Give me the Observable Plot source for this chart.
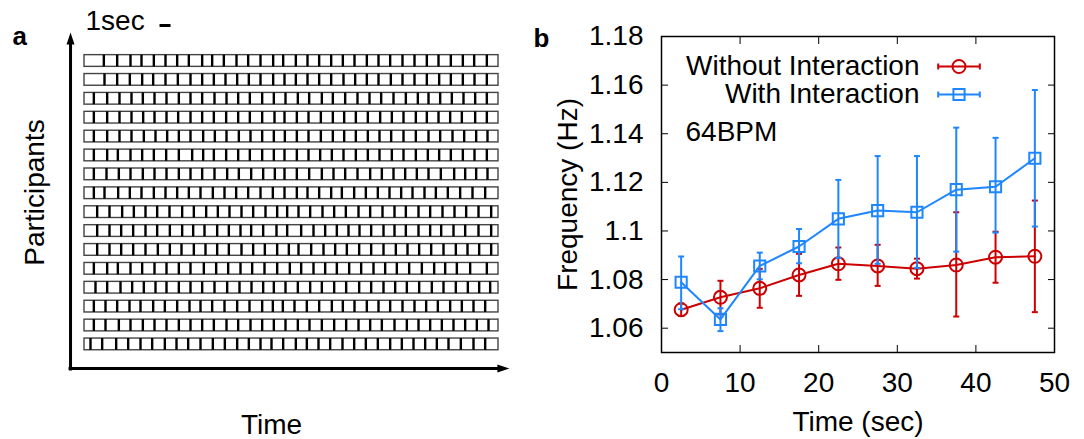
<!DOCTYPE html>
<html><head><meta charset="utf-8">
<script src="https://cdn.jsdelivr.net/npm/d3@7"></script>
<script src="https://cdn.jsdelivr.net/npm/@observablehq/plot@0.6"></script>
<style>
html,body{margin:0;padding:0;background:#fff;}
#wrap{position:relative;width:1084px;height:439px;overflow:hidden;font-family:"Liberation Sans",Arial,sans-serif;}
#wrap svg{position:absolute;top:0;overflow:visible;}
</style></head><body><div id="wrap"></div>
<script>
// ---------- Panel a: tap times of 16 participants (units of 1/33 s) ----------
const TAP_UNITS_PER_SEC = 33;
const trialUnits = 1242;
const participantTaps = [
 [58,98,138,171,208,243,278,313,353,383,418,456,491,528,566,596,634,669,704,740,775,810,847,882,917,954,990,1027,1062,1099,1135,1169,1207],
 [60,98,136,173,206,243,280,318,353,388,423,458,493,528,566,600,634,669,704,740,777,812,847,882,919,954,990,1027,1064,1099,1135,1170,1207],
 [28,68,105,141,175,210,246,283,318,353,390,426,461,496,533,568,603,640,674,712,745,782,819,855,890,927,964,1000,1032,1067,1102,1137,1172,1207],
 [28,68,105,141,176,210,246,281,318,353,388,425,461,496,533,570,600,637,672,709,745,779,814,850,887,922,957,994,1027,1062,1097,1132,1172,1207],
 [28,68,105,141,178,213,248,283,318,356,391,426,463,498,533,568,601,637,672,709,745,779,814,850,885,920,957,994,1032,1067,1104,1139,1175,1209],
 [28,68,100,138,173,208,245,283,323,356,388,425,461,496,533,568,600,637,672,707,742,777,814,850,885,922,957,994,1030,1064,1099,1135,1170,1207],
 [28,66,103,138,175,210,246,283,318,353,390,428,463,500,536,571,600,637,674,712,747,782,819,857,892,927,962,997,1032,1069,1109,1142,1175,1209],
 [28,60,101,136,171,208,243,278,313,348,385,420,455,491,528,565,600,637,669,704,740,772,809,844,880,915,950,984,1020,1054,1090,1127,1164,1202],
 [38,75,113,148,183,218,255,293,328,365,400,435,471,506,543,578,608,642,677,714,749,784,822,857,894,930,964,1002,1037,1074,1110,1145,1182,1220],
 [38,75,110,146,183,218,256,293,326,360,398,433,468,500,536,576,608,650,687,722,757,792,825,860,897,930,964,1002,1037,1070,1107,1142,1182,1220],
 [38,75,110,146,183,220,256,291,328,363,398,433,471,506,541,578,613,642,680,717,752,787,824,860,897,934,969,1004,1040,1077,1114,1149,1184,1220],
 [28,68,100,138,173,210,246,283,318,358,395,431,468,503,540,578,616,650,687,722,757,794,830,867,902,937,974,1012,1049,1082,1117,1157,1207],
 [33,68,108,143,178,213,246,283,318,353,390,428,465,501,536,568,603,640,677,712,749,785,824,860,897,932,967,1004,1042,1077,1114,1150,1184,1217],
 [28,63,98,135,168,206,241,278,315,348,383,420,458,495,533,565,595,630,667,704,742,775,810,847,882,917,954,990,1025,1060,1097,1132,1167,1202],
 [28,63,103,138,175,210,246,283,318,353,388,426,461,498,533,568,603,640,675,712,749,785,822,857,892,930,967,1002,1037,1072,1107,1142,1177,1212],
 [18,53,95,131,168,203,241,276,311,348,385,421,458,493,528,561,596,634,667,702,737,774,809,844,880,917,952,987,1022,1057,1092,1129,1167,1202]
];
const scaleBarStartSec = 6.82;   // "1sec" scale bar
const scaleBarRow = -0.88;

// ---------- Panel b: mean tapping frequency (Hz) with error bars ----------
const timeSec = [2.5, 7.5, 12.5, 17.5, 22.5, 27.5, 32.5, 37.5, 42.5, 47.5];
const withoutMean = [1.0676, 1.0727, 1.0764, 1.0819, 1.0865, 1.0856, 1.0845, 1.0860, 1.0892, 1.0896];
const withoutLow  = [1.0650, 1.0657, 1.0684, 1.0733, 1.0799, 1.0774, 1.0804, 1.0648, 1.0787, 1.0666];
const withoutHigh = [1.0702, 1.0795, 1.0844, 1.0906, 1.0932, 1.0943, 1.0886, 1.1077, 1.0997, 1.1125];
const withMean = [1.0789, 1.0636, 1.0856, 1.0936, 1.1050, 1.1084, 1.1077, 1.1170, 1.1182, 1.1299];
const withLow  = [1.0678, 1.0588, 1.0801, 1.0867, 1.0889, 1.0865, 1.0848, 1.0915, 1.0993, 1.1018];
const withHigh = [1.0895, 1.0682, 1.0911, 1.1008, 1.1210, 1.1308, 1.1308, 1.1425, 1.1383, 1.1580];
const xTicks = [0, 10, 20, 30, 40, 50];
const yTicks = [1.06, 1.08, 1.1, 1.12, 1.14, 1.16, 1.18];
const seriesNames = ["Without Interaction", "With Interaction"];
const RED = "#cc0000", BLUE = "#1e86ff";
const FONT = "Liberation Sans, Arial, sans-serif";
const FS = 28;

// ---------- build ----------
const wrap = document.getElementById("wrap");
const style = {fontFamily: FONT, fontSize: FS + "px", color: "black", background: "transparent", overflow: "visible"};
const T = {fontSize: FS, lineAnchor: "middle"};

const trialSec = trialUnits / TAP_UNITS_PER_SEC;
const rows = participantTaps.map((t, i) => ({row: i + 1, start: 0, end: trialSec}));
const taps = participantTaps.flatMap((ts, i) => ts.map(u => ({row: i + 1, t: u / TAP_UNITS_PER_SEC})));
const H = 0.31;
const arrowHead = {draw(ctx) { ctx.moveTo(0, -8); ctx.lineTo(4, 4); ctx.lineTo(-4, 4); ctx.closePath(); }};

const plotA = Plot.plot({
  width: 520, height: 439, marginLeft: 84, marginRight: 22, marginTop: 54, marginBottom: 89,
  x: {domain: [0, trialSec], axis: null},
  y: {domain: [1, participantTaps.length], range: [60.5, 343.9], axis: null},
  style,
  marks: [
    Plot.rect(rows, {x1: "start", x2: "end", y1: d => d.row - H, y2: d => d.row + H, fill: "white", stroke: "#444", strokeWidth: 1.4}),
    Plot.ruleX(taps, {x: "t", y1: d => d.row - H, y2: d => d.row + H, stroke: "black", strokeWidth: 2.4}),
    // axes arrows
    Plot.link([0], {x1: -1.45, x2: 37.9, y1: 17.28, y2: 17.28, stroke: "black", strokeWidth: 3}),
    Plot.link([0], {x1: -1.27, x2: -1.27, y1: 17.38, y2: -0.09, stroke: "black", strokeWidth: 3}),
    Plot.dot([0], {x: 37.9, y: 17.28, symbol: arrowHead, r: 5, fill: "black", stroke: "none", rotate: 90}),
    Plot.dot([0], {x: -1.27, y: -0.09, symbol: arrowHead, r: 5, fill: "black", stroke: "none"}),
    // scale bar
    Plot.link([0], {x1: scaleBarStartSec, x2: scaleBarStartSec + 1, y1: scaleBarRow, y2: scaleBarRow, stroke: "black", strokeWidth: 3}),
    Plot.text(["1sec"], {...T, frameAnchor: "top-left", dx: 1, dy: -33, textAnchor: "start"}),
    Plot.text(["Participants"], {...T, frameAnchor: "left", dx: -49, dy: -10, rotate: -90, textAnchor: "middle"}),
    Plot.text(["Time"], {...T, frameAnchor: "bottom", dx: -20, dy: 75, textAnchor: "middle"}),
    Plot.text(["a"], {frameAnchor: "top-left", lineAnchor: "middle", dx: -72, dy: -18, textAnchor: "start", fontSize: 26, fontWeight: "bold"})
  ]
});
plotA.style.left = "0px";
wrap.appendChild(plotA);

const without = timeSec.map((x, i) => ({x, y: withoutMean[i], lo: withoutLow[i], hi: withoutHigh[i]}));
const withI = timeSec.map((x, i) => ({x, y: withMean[i], lo: withLow[i], hi: withHigh[i]}));
const capSymbol = {draw(ctx, size) { const r = Math.sqrt(size / Math.PI); ctx.moveTo(-r, 0); ctx.lineTo(r, 0); }};
const keySymbol = {draw(ctx, size) { const r = Math.sqrt(size / Math.PI); ctx.moveTo(-r, 0); ctx.lineTo(r, 0); ctx.moveTo(-r, -3); ctx.lineTo(-r, 3); ctx.moveTo(r, -3); ctx.lineTo(r, 3); }};

function seriesMarks(data, color, symbol, r) {
  return [
    Plot.ruleX(data, {x: "x", y1: "lo", y2: "hi", stroke: color, strokeWidth: 2}),
    Plot.dot(data, {x: "x", y: "lo", symbol: capSymbol, r: 3, stroke: color, strokeWidth: 2, fill: "none"}),
    Plot.dot(data, {x: "x", y: "hi", symbol: capSymbol, r: 3, stroke: color, strokeWidth: 2, fill: "none"}),
    Plot.line(data, {x: "x", y: "y", stroke: color, strokeWidth: 2}),
    Plot.dot(data, {x: "x", y: "y", symbol, r, stroke: color, strokeWidth: 2, fill: "none"})
  ];
}

const plotB = Plot.plot({
  width: 564, height: 439, marginLeft: 141, marginRight: 30, marginTop: 36, marginBottom: 87,
  x: {domain: [0, 50]},
  y: {domain: [1.05, 1.18]},
  style,
  marks: [
    Plot.axisX(xTicks, {anchor: "bottom", tickSize: -7, fill: "none", label: null}),
    Plot.axisX(xTicks, {anchor: "top", tickSize: -7, fill: "none", label: null}),
    Plot.axisY(yTicks, {anchor: "left", tickSize: -7, fill: "none", label: null}),
    Plot.axisY(yTicks, {anchor: "right", tickSize: -7, fill: "none", label: null}),
    Plot.axisX(xTicks, {anchor: "bottom", tickSize: 0, tickPadding: 20, fontSize: FS, label: null, tickFormat: d => String(d)}),
    Plot.axisY(yTicks, {anchor: "left", tickSize: 0, tickPadding: 18, fontSize: FS, label: null, tickFormat: d => String(d)}),
    ...seriesMarks(without, RED, "circle", 6.5),
    ...seriesMarks(withI, BLUE, "square", 6.3),
    Plot.frame({stroke: "black", strokeWidth: 1.5}),
    Plot.text(["Frequency (Hz)"], {...T, frameAnchor: "left", dx: -93, rotate: -90, textAnchor: "middle"}),
    Plot.text(["Time (sec)"], {...T, frameAnchor: "bottom", dy: 70, textAnchor: "middle"}),
    Plot.text([seriesNames[0]], {...T, frameAnchor: "top-left", dx: 258, dy: 30, textAnchor: "end"}),
    Plot.text([seriesNames[1]], {...T, frameAnchor: "top-left", dx: 258, dy: 58, textAnchor: "end"}),
    Plot.dot([0], {frameAnchor: "top-left", dx: 297.5, dy: 30, symbol: keySymbol, r: 20.8, stroke: RED, strokeWidth: 2, fill: "none"}),
    Plot.dot([0], {frameAnchor: "top-left", dx: 297.5, dy: 30, symbol: "circle", r: 6.5, stroke: RED, strokeWidth: 2, fill: "none"}),
    Plot.dot([0], {frameAnchor: "top-left", dx: 297.5, dy: 58, symbol: keySymbol, r: 20.8, stroke: BLUE, strokeWidth: 2, fill: "none"}),
    Plot.dot([0], {frameAnchor: "top-left", dx: 297.5, dy: 58, symbol: "square", r: 6.3, stroke: BLUE, strokeWidth: 2, fill: "none"}),
    Plot.text(["64BPM"], {...T, frameAnchor: "top-left", dx: 24, dy: 96, textAnchor: "start"}),
    Plot.text(["b"], {frameAnchor: "top-left", lineAnchor: "middle", dx: -128, dy: 2, textAnchor: "start", fontSize: 26, fontWeight: "bold"})
  ]
});
plotB.style.left = "520px";
wrap.appendChild(plotB);
</script></body></html>
